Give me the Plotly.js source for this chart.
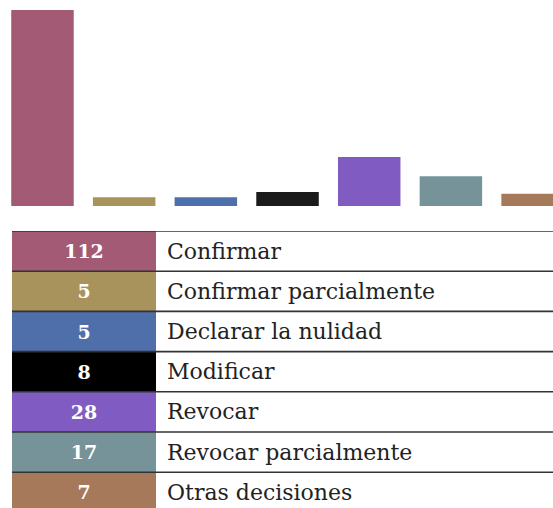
<!DOCTYPE html>
<html>
<head>
<meta charset="utf-8">
<script src="https://cdn.plot.ly/plotly-3.0.1.min.js"></script>
<style>
  html, body { margin: 0; padding: 0; background: #fff; }
  #graph { width: 553px; height: 508px; }
</style>
</head>
<body>
<div id="graph"></div>
<script>
  // Decisions and counts
  var categories = ['Confirmar', 'Confirmar parcialmente', 'Declarar la nulidad', 'Modificar',
    'Revocar', 'Revocar parcialmente', 'Otras decisiones'];
  var counts = [112, 5, 5, 8, 28, 17, 7];
  var barColors = ['#a35a75', '#a8935c', '#4f6fab', '#1b1b1b', '#805bc2', '#759398', '#a6795a'];
  var cellColors = ['#a35a75', '#a8935c', '#4f6fab', '#000000', '#805bc2', '#759398', '#a6795a'];

  var W = 553, H = 508;
  var tableTop = 231;      // px where the table starts
  var rowH = 40.2;         // px per table row
  var numColW = 144;       // width of the coloured column
  var labelColW = 397;     // width of the label column
  var labelPad = 8;        // extra space before labels

  var visibleRows = (H - tableTop) / rowH;

  // top: bar chart
  var bars = {
    type: 'bar',
    x: categories,
    y: counts,
    marker: { color: barColors, line: { width: 0 } },
    hoverinfo: 'skip'
  };

  // bottom: legend table built from horizontal bars
  var numCells = {
    type: 'bar',
    orientation: 'h',
    xaxis: 'x2', yaxis: 'y2',
    y: categories,
    x: categories.map(function () { return numColW; }),
    base: 0,
    width: 1,
    marker: { color: cellColors, line: { width: 0 } },
    text: counts.map(String),
    textposition: 'inside',
    insidetextanchor: 'middle',
    textangle: 0,
    insidetextfont: { family: 'DejaVu Serif', size: 19, color: '#ffffff', weight: 'bold' },
    hoverinfo: 'skip'
  };

  var labelCells = {
    type: 'bar',
    orientation: 'h',
    xaxis: 'x2', yaxis: 'y2',
    y: categories,
    x: categories.map(function () { return labelColW - labelPad; }),
    base: numColW + labelPad,
    width: 1,
    marker: { color: 'rgba(0,0,0,0)', line: { width: 0 } },
    text: categories,
    textposition: 'inside',
    insidetextanchor: 'start',
    textangle: 0,
    insidetextfont: { family: 'DejaVu Serif', size: 22, color: '#222222' },
    hoverinfo: 'skip'
  };

  // horizontal rules between rows
  var shapes = categories.map(function (c, i) {
    return {
      type: 'line', xref: 'paper', yref: 'y2',
      x0: 12 / W, x1: 1, y0: i - 0.5, y1: i - 0.5,
      line: { color: '#333333', width: 1.6 },
      layer: 'above'
    };
  });

  var layout = {
    width: W,
    height: H,
    margin: { l: 0, r: 0, t: 0, b: 0 },
    paper_bgcolor: '#ffffff',
    plot_bgcolor: '#ffffff',
    showlegend: false,
    barmode: 'overlay',
    bargap: 0.235,
    xaxis: {
      type: 'category',
      range: [-0.52, 6.25],
      visible: false,
      fixedrange: true
    },
    yaxis: {
      domain: [1 - 206 / H, 1],
      range: [0, 206 / 1.75],
      visible: false,
      fixedrange: true
    },
    xaxis2: {
      anchor: 'y2',
      domain: [12 / W, 1],
      range: [0, numColW + labelColW],
      visible: false,
      fixedrange: true
    },
    yaxis2: {
      anchor: 'x2',
      type: 'category',
      domain: [0, 1 - tableTop / H],
      range: [visibleRows - 0.5, -0.5],
      visible: false,
      fixedrange: true
    },
    shapes: shapes
  };

  Plotly.newPlot('graph', [bars, numCells, labelCells], layout, { displayModeBar: false, staticPlot: true });
</script>
</body>
</html>
